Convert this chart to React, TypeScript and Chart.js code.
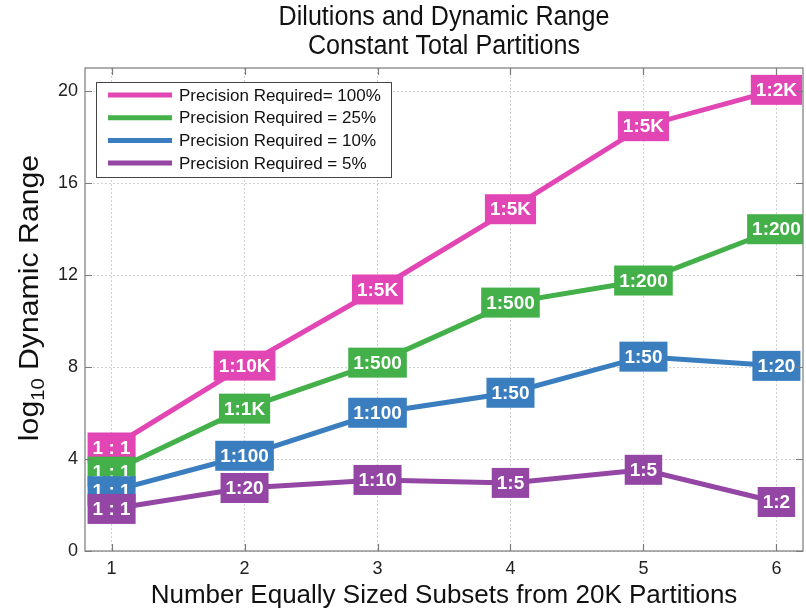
import React, { useEffect, useRef } from "react";
import { Chart, registerables } from "chart.js";
Chart.register(...registerables);

const xValues = [1, 2, 3, 4, 5, 6];
const seriesNames = [
  "Precision Required= 100%",
  "Precision Required = 25%",
  "Precision Required = 10%",
  "Precision Required = 5%",
];
const pinkValues = [4.5, 8.06, 11.37, 14.86, 18.47, 20.05];
const greenValues = [3.45, 6.19, 8.19, 10.8, 11.76, 13.99];
const blueValues = [2.6, 4.14, 6.01, 6.88, 8.45, 8.05];
const purpleValues = [1.83, 2.74, 3.09, 2.96, 3.53, 2.13];
const pinkLabels = ["1 : 1", "1:10K", "1:5K", "1:5K", "1:5K", "1:2K"];
const greenLabels = ["1 : 1", "1:1K", "1:500", "1:500", "1:200", "1:200"];
const blueLabels = ["1 : 1", "1:100", "1:100", "1:50", "1:50", "1:20"];
const purpleLabels = ["1 : 1", "1:20", "1:10", "1:5", "1:5", "1:2"];
const xTicks = [1, 2, 3, 4, 5, 6];
const yTicks = [0, 4, 8, 12, 16, 20];
const colors = ["#e245b4", "#43b049", "#3a7ec0", "#9446a4"];

const FONT = "'Liberation Sans', Arial, sans-serif";

function drawScaledText(ctx: any, text: string, x: number, y: number, sx: number) {
  ctx.save();
  ctx.translate(x, y);
  ctx.scale(sx, 1);
  ctx.fillText(text, 0, 0);
  ctx.restore();
}

const decorPlugin = {
  id: "decor",
  afterDatasetsDraw(chart: any) {
    const ctx = chart.ctx;
    const { left, right, top, bottom } = chart.chartArea;
    const xs = chart.scales.x;
    const ys = chart.scales.y;
    // point labels
    ctx.save();
    ctx.beginPath();
    ctx.rect(left, top, right - left, bottom - top);
    ctx.clip();
    ctx.font = "bold 19px " + FONT;
    ctx.textAlign = "center";
    ctx.textBaseline = "middle";
    chart.data.datasets.forEach((ds: any, di: number) => {
      const labels = ds.pointLabels as string[];
      ds.data.forEach((v: any, i: number) => {
        const px = xs.getPixelForValue(v.x);
        const py = ys.getPixelForValue(v.y);
        const t = labels[i];
        const w = ctx.measureText(t).width + 10;
        const h = 30;
        ctx.fillStyle = colors[di];
        ctx.fillRect(px - w / 2, py - h / 2, w, h);
        ctx.fillStyle = "#ffffff";
        ctx.fillText(t, px, py + 1);
      });
    });
    ctx.restore();

    // frame and inward ticks
    ctx.save();
    ctx.strokeStyle = "#7a7a7a";
    ctx.lineWidth = 1.2;
    ctx.strokeRect(left, top, right - left, bottom - top);
    ctx.beginPath();
    const tl = 7;
    xTicks.forEach((t) => {
      const px = Math.round(xs.getPixelForValue(t)) + 0.5;
      ctx.moveTo(px, bottom);
      ctx.lineTo(px, bottom - tl);
      ctx.moveTo(px, top);
      ctx.lineTo(px, top + tl);
    });
    yTicks.forEach((t) => {
      const py = Math.round(ys.getPixelForValue(t)) + 0.5;
      ctx.moveTo(left, py);
      ctx.lineTo(left + tl, py);
      ctx.moveTo(right, py);
      ctx.lineTo(right - tl, py);
    });
    ctx.stroke();
    ctx.restore();

    // legend
    ctx.save();
    const lx = 96, ly = 82, lw = 295, lh = 95;
    ctx.fillStyle = "#ffffff";
    ctx.fillRect(lx, ly, lw, lh);
    ctx.strokeStyle = "#444";
    ctx.lineWidth = 1;
    ctx.strokeRect(lx + 0.5, ly + 0.5, lw, lh);
    ctx.font = "17px " + FONT;
    ctx.textAlign = "left";
    ctx.textBaseline = "middle";
    seriesNames.forEach((n, i) => {
      const yy = ly + 13 + i * 22.7;
      ctx.strokeStyle = colors[i];
      ctx.lineWidth = 5;
      ctx.beginPath();
      ctx.moveTo(108, yy);
      ctx.lineTo(172, yy);
      ctx.stroke();
      ctx.fillStyle = "#111";
      ctx.fillText(n, 179, yy + 1);
    });
    ctx.restore();

    // titles
    ctx.save();
    ctx.fillStyle = "#111";
    ctx.textAlign = "center";
    ctx.textBaseline = "middle";
    ctx.font = "27px " + FONT;
    const cx = (left + right) / 2;
    drawScaledText(ctx, "Dilutions and Dynamic Range", cx, 18, 0.93);
    drawScaledText(ctx, "Constant Total Partitions", cx, 47, 0.93);
    ctx.font = "26px " + FONT;
    drawScaledText(ctx, "Number Equally Sized Subsets from 20K Partitions", cx, 596, 1.0);
    // y title with subscript
    ctx.translate(31, 298);
    ctx.rotate(-Math.PI / 2);
    ctx.scale(1.12, 1);
    ctx.textAlign = "left";
    const big = "27px " + FONT;
    const small = "18px " + FONT;
    ctx.font = big;
    const w1 = ctx.measureText("log").width;
    ctx.font = small;
    const w2 = ctx.measureText("10").width;
    ctx.font = big;
    const w3 = ctx.measureText(" Dynamic Range").width;
    const total = w1 + w2 + w3;
    let sx = -total / 2;
    ctx.fillText("log", sx, 0);
    sx += w1;
    ctx.font = small;
    ctx.fillText("10", sx, 8);
    sx += w2;
    ctx.font = big;
    ctx.fillText(" Dynamic Range", sx, 0);
    ctx.restore();
  },
};

export default function App() {
  const ref = useRef<HTMLCanvasElement>(null);
  useEffect(() => {
    document.body.style.margin = "0";
    const allValues = [pinkValues, greenValues, blueValues, purpleValues];
    const allLabels = [pinkLabels, greenLabels, blueLabels, purpleLabels];
    const chart = new Chart(ref.current as HTMLCanvasElement, {
      type: "line",
      data: {
        datasets: allValues.map((vals, i) => ({
          label: seriesNames[i],
          data: vals.map((v, j) => ({ x: xValues[j], y: v })),
          borderColor: colors[i],
          backgroundColor: colors[i],
          borderWidth: 5,
          pointRadius: 0,
          tension: 0,
          pointLabels: allLabels[i],
        })) as any,
      },
      options: {
        animation: false,
        responsive: false,
        layout: { padding: { left: 0, top: 68, right: 3, bottom: 0 } },
        plugins: { legend: { display: false }, tooltip: { enabled: false }, title: { display: false } },
        scales: {
          x: {
            type: "linear",
            min: 0.8,
            max: 6.2,
            afterBuildTicks: (s: any) => {
              s.ticks = xTicks.map((v) => ({ value: v }));
            },
            afterFit: (s: any) => {
              s.height = 60;
            },
            grid: { color: "#d0d0d0", drawTicks: false, lineWidth: 1 },
            border: { display: false, dash: [2, 2] },
            ticks: { color: "#222", font: { family: FONT, size: 18 }, padding: 7 },
          },
          y: {
            type: "linear",
            min: 0,
            max: 21,
            afterBuildTicks: (s: any) => {
              s.ticks = yTicks.map((v) => ({ value: v }));
            },
            afterFit: (s: any) => {
              s.width = 85;
            },
            grid: { color: "#d0d0d0", drawTicks: false, lineWidth: 1 },
            border: { display: false, dash: [2, 2] },
            ticks: { color: "#222", font: { family: FONT, size: 18 }, padding: 7 },
          },
        },
      },
      plugins: [decorPlugin],
    });
    return () => chart.destroy();
  }, []);
  return (
    <div style={{ width: 806, height: 611, background: "#fff" }}>
      <canvas ref={ref} width={806} height={611} style={{ display: "block" }} />
    </div>
  );
}
